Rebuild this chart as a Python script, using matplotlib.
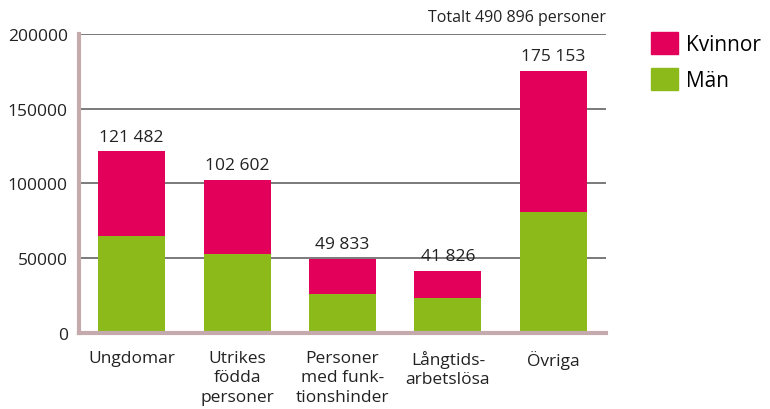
import numpy as np
from matplotlib import pyplot as plt
from matplotlib.patches import Patch

plt.rcParams['font.family'] = ['Open Sans', 'DejaVu Sans']

categories = ['Ungdomar', 'Utrikes\nfödda\npersoner', 'Personer\nmed funk-\ntionshinder',
              'Långtids-\narbetslösa', 'Övriga']
totals = [121482, 102602, 49833, 41826, 175153]
man = [64700, 52700, 26000, 23300, 80700]
kvinnor = [56782, 49902, 23833, 18526, 94453]
total_text = 'Totalt 490 896 personer'

pink = '#e2005a'
green = '#8cba1b'
spine_col = '#c4aaad'
grid_col = '#707070'
text_col = '#222222'

fig = plt.figure(figsize=(7.7, 4.1), dpi=100)
ax = fig.add_axes([0.1026, 0.185, 0.6844, 0.73])

x = np.arange(len(categories))
w = 0.635
ax.bar(x, man, w, color=green, zorder=3)
ax.bar(x, kvinnor, w, bottom=man, color=pink, zorder=3)

for xi, t in zip(x, totals):
    s = f'{t:,}'.replace(',', ' ')
    ax.text(xi, t + 4500, s, ha='center', va='bottom', fontsize=12.5, color=text_col)

ax.set_xlim(-0.5, 4.5)
ax.set_ylim(0, 200000)
ax.set_yticks([0, 50000, 100000, 150000, 200000])
ax.set_yticklabels(['0', '50000', '100000', '150000', '200000'])
ax.yaxis.grid(True, color=grid_col, linewidth=1.3, zorder=0)
ax.set_axisbelow(True)
ax.set_xticks(x)
ax.set_xticklabels(categories, linespacing=1.3)
ax.tick_params(axis='both', length=0, labelsize=12.5, colors=text_col)
ax.tick_params(axis='x', pad=12)
ax.tick_params(axis='y', pad=8)

for side in ['top', 'right']:
    ax.spines[side].set_visible(False)
for side in ['left', 'bottom']:
    ax.spines[side].set_color(spine_col)
    ax.spines[side].set_linewidth(3)
    ax.spines[side].set_zorder(4)

ax.text(1.0, 1.03, total_text, transform=ax.transAxes, ha='right', va='bottom',
        fontsize=11.5, color=text_col)

handles = [Patch(color=pink, label='Kvinnor'), Patch(color=green, label='Män')]
ax.legend(handles=handles, loc='upper left', bbox_to_anchor=(1.07, 1.035), frameon=False,
          fontsize=15, handlelength=1.3, handleheight=1.3, handletextpad=0.35,
          labelspacing=0.6, borderaxespad=0)

plt.savefig('out.png')
